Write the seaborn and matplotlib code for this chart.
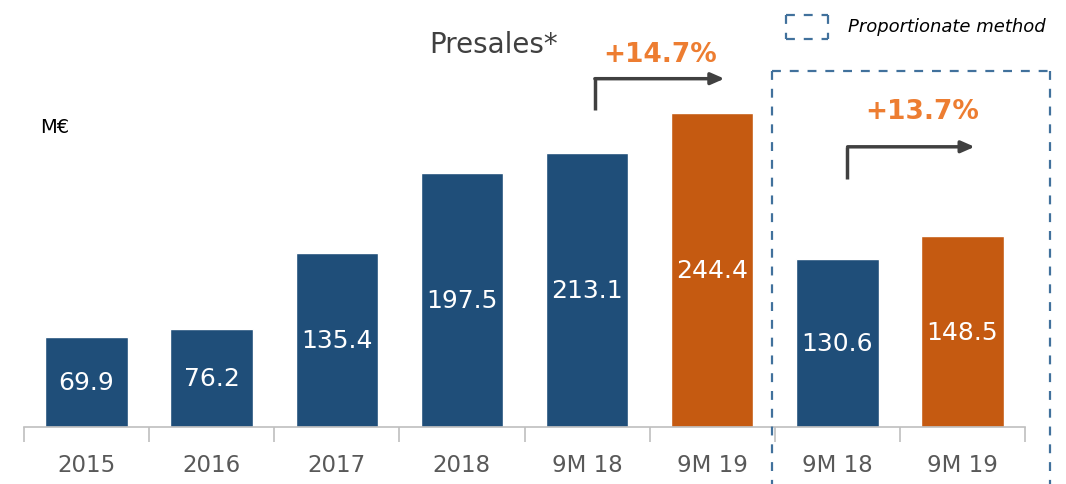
import numpy as np
import pandas as pd
import matplotlib.pyplot as plt
from matplotlib.lines import Line2D
import seaborn as sns

categories = ['2015', '2016', '2017', '2018', '9M 18', '9M 19', '9M 18', '9M 19']
values = [69.9, 76.2, 135.4, 197.5, 213.1, 244.4, 130.6, 148.5]
period = ['past', 'past', 'past', 'past', 'past', 'current', 'past', 'current']
growth = ['+14.7%', '+13.7%']

blue = '#1F4E79'
orange = '#C55A11'

sns.set_style('white')
plt.rcParams['font.family'] = ['DejaVu Sans']

df = pd.DataFrame({'pos': range(len(values)), 'value': values, 'period': period})

fig = plt.figure(figsize=(10.66, 4.85), dpi=100)
ax = fig.add_axes([24 / 1066, 57 / 485, 1001 / 1066, 428 / 485])

sns.barplot(data=df, x='pos', y='value', hue='period', dodge=False,
            palette={'past': blue, 'current': orange}, width=0.66,
            legend=False, ax=ax, saturation=1)

ax.set_xlim(-0.5, 7.5)
ax.set_ylim(0, 333)
for s in ['top', 'right', 'left']:
    ax.spines[s].set_visible(False)
ax.spines['bottom'].set_color('#BFBFBF')
ax.spines['bottom'].set_linewidth(1.2)
ax.set_yticks([])
ax.set_xlabel('')
ax.set_ylabel('')
ax.set_xticks(range(len(categories)))
ax.set_xticklabels(categories, fontsize=16.5, color='#595959')
ax.tick_params(axis='x', length=0, pad=19)
ax.set_xticks(np.arange(-0.5, 8, 1), minor=True)
ax.tick_params(axis='x', which='minor', bottom=True, direction='out',
               length=11, color='#BFBFBF', width=1.2)

for i, v in enumerate(values):
    ax.text(i, v / 2, f'{v:.1f}', ha='center', va='center', color='white', fontsize=18)

# growth arrows
arrow_kw = dict(color='#404040', lw=2.5)
ax.plot([4.06, 4.06], [247, 271], solid_capstyle='butt', **arrow_kw)
ax.annotate('', xy=(5.12, 271), xytext=(4.04, 271),
            arrowprops=dict(arrowstyle='-|>,head_length=0.8,head_width=0.35', color='#404040', lw=2.5))
ax.plot([6.08, 6.08], [193, 218], solid_capstyle='butt', **arrow_kw)
ax.annotate('', xy=(7.12, 218), xytext=(6.06, 218),
            arrowprops=dict(arrowstyle='-|>,head_length=0.8,head_width=0.35', color='#404040', lw=2.5))
ax.text(4.58, 290, growth[0], ha='center', va='center', color='#ED7D31', fontsize=19, fontweight='bold')
ax.text(6.68, 246, growth[1], ha='center', va='center', color='#ED7D31', fontsize=19, fontweight='bold')

fig.text(494 / 1066, 1 - 45 / 485, 'Presales*', ha='center', va='center', color='#404040',
         fontsize=20)
fig.text(40 / 1066, 1 - 128 / 485, 'M€', ha='left', va='center', color='black', fontsize=14)

# dashed box for proportionate method
box = '#41719C'
W, H = 1066, 485
for xs, ys in [([772, 1050], [72, 72]), ([772, 772], [72, 490]), ([1050, 1050], [72, 490])]:
    fig.add_artist(Line2D([x / W for x in xs], [1 - y / H for y in ys], color=box,
                          lw=1.6, ls=(0, (4, 4))))
# legend square
for xs, ys in [([786, 828], [16, 16]), ([786, 828], [40, 40]), ([786, 786], [16, 40]), ([828, 828], [16, 40])]:
    fig.add_artist(Line2D([x / W for x in xs], [1 - y / H for y in ys], color=box,
                          lw=1.6, ls=(0, (4, 4))))
fig.text(848 / W, 1 - 27 / H, 'Proportionate method', ha='left', va='center',
         fontsize=13, style='italic', color='black')

fig.savefig('out.png', dpi=100)
